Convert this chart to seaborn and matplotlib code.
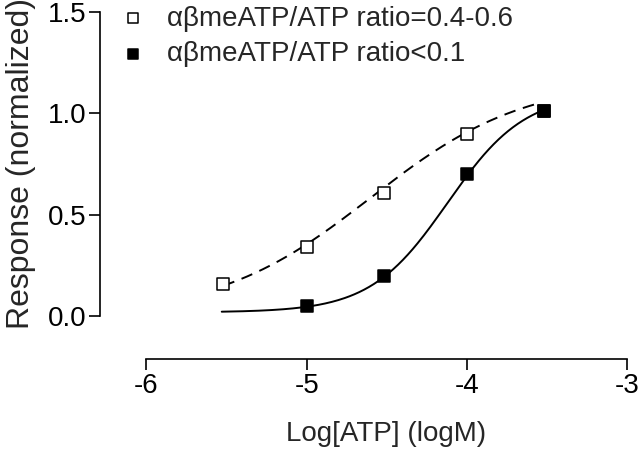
import numpy as np
import pandas as pd
import matplotlib
matplotlib.use("Agg")
import matplotlib.pyplot as plt
import seaborn as sns

# measured points (log M vs normalized response)
log_atp = [-5.52, -5.0, -4.52, -4.0, -3.52]
resp_high = [0.158, 0.34, 0.61, 0.897, 1.01]   # ratio 0.4-0.6, open squares
resp_low_x = [-5.0, -4.52, -4.0, -3.52]
resp_low = [0.05, 0.20, 0.70, 1.01]            # ratio < 0.1, filled squares

labels = ["\u03b1\u03b2meATP/ATP ratio=0.4-0.6", "\u03b1\u03b2meATP/ATP ratio<0.1"]

# Hill fit parameters estimated from the figure: bottom, top, logEC50, slope
fit_high = (0.0, 1.17, -4.6, 0.9)
fit_low = (0.02, 1.10, -4.12, 1.8)


def hill(x, p):
    b, t, e, h = p
    return b + (t - b) / (1 + 10 ** ((e - x) * h))


sns.set_style("ticks")
plt.rcParams['font.family'] = ['Liberation Sans', 'DejaVu Sans']

fig = plt.figure(figsize=(6.4, 4.51), dpi=100)
ax = fig.add_axes([100 / 640, (451 - 359) / 451, (627 - 100) / 640, (359 - 12) / 451])

xs_high = np.linspace(-5.52, -3.55, 200)
xs_low = np.linspace(-5.53, -3.52, 200)
curve_high = pd.DataFrame({"x": xs_high, "y": hill(xs_high, fit_high)})
curve_low = pd.DataFrame({"x": xs_low, "y": hill(xs_low, fit_low)})

sns.lineplot(data=curve_high, x="x", y="y", ax=ax, color="black", lw=1.4,
             zorder=1).lines[-1].set_dashes([6, 4])
sns.lineplot(data=curve_low, x="x", y="y", ax=ax, color="black", lw=1.4, zorder=1)

h1 = ax.scatter(log_atp, resp_high, marker="s", s=75, facecolor="white",
                edgecolor="black", linewidth=1.1, zorder=3)
h2 = ax.scatter(resp_low_x, resp_low, marker="s", s=75, facecolor="black",
                edgecolor="black", linewidth=1.1, zorder=4)

ax.set_xlim(-6.29, -3.0)
ax.set_ylim(-0.21, 1.5)
ax.set_xticks([-6, -5, -4, -3])
ax.set_xticklabels(["-6", "-5", "-4", "-3"])
ax.set_yticks([0.0, 0.5, 1.0, 1.5])
ax.set_yticklabels(["0.0", "0.5", "1.0", "1.5"])
ax.spines["top"].set_visible(False)
ax.spines["right"].set_visible(False)
ax.spines["left"].set_bounds(0, 1.5)
ax.spines["bottom"].set_bounds(-6, -3)
for s in ["left", "bottom"]:
    ax.spines[s].set_linewidth(1.2)
    ax.spines[s].set_color("black")
ax.tick_params(axis="both", direction="out", length=8, width=1.2,
               labelsize=20, colors="black", pad=2)

ax.set_xlabel("Log[ATP] (logM)", fontsize=20)
ax.xaxis.set_label_coords(0.543, -0.179)
ax.set_ylabel("Response (normalized)", fontsize=23)
ax.yaxis.set_label_coords(-0.122, 0.562)

leg = ax.legend([h1, h2], labels, loc="upper left", bbox_to_anchor=(-0.012, 1.05),
                frameon=False, fontsize=20, handletextpad=0.25, labelspacing=0.35,
                markerscale=0.8, borderaxespad=0)

fig.savefig("out.png", dpi=100)
